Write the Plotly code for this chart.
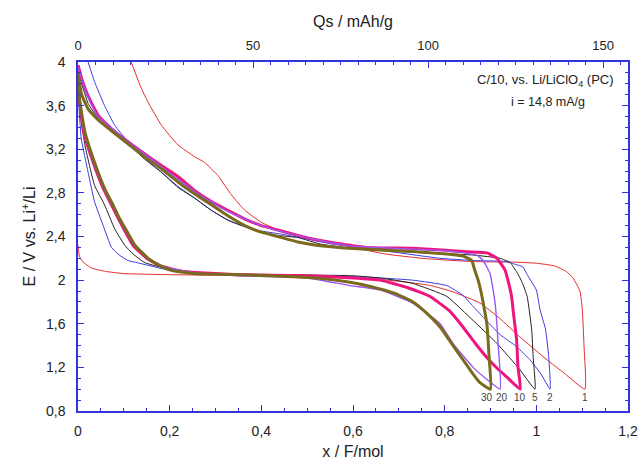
import plotly.graph_objects as go

# ---------- data (x / F/mol, E / V) ----------
cycles = ["1", "2", "5", "10", "20", "30"]

# cycle 1 (red)
c1_dis_x = [0, 0.003, 0.01, 0.03, 0.06, 0.1, 0.2, 0.4, 0.55, 0.65, 0.72, 0.77, 0.82, 0.877, 0.92, 0.964, 1.023, 1.06, 1.106]
c1_dis_e = [2.32, 2.22, 2.17, 2.11, 2.08, 2.06, 2.05, 2.04, 2.03, 2.01, 1.98, 1.95, 1.89, 1.79, 1.65, 1.48, 1.27, 1.15, 1.0]
c1_chg_x = [1.106, 1.104, 1.1, 1.095, 1.08, 1.065, 1.04, 1.0, 0.95, 0.86, 0.75, 0.67, 0.6, 0.55, 0.5, 0.473, 0.436, 0.4, 0.364, 0.335, 0.305, 0.276, 0.255, 0.218, 0.182, 0.153, 0.138, 0.116]
c1_chg_e = [1.0, 1.4, 1.75, 1.9, 2.02, 2.08, 2.13, 2.155, 2.165, 2.17, 2.2, 2.24, 2.3, 2.35, 2.39, 2.41, 2.46, 2.53, 2.64, 2.78, 2.96, 3.08, 3.13, 3.24, 3.42, 3.63, 3.76, 4.0]

# cycle 2 (blue)
c2_dis_x = [0, 0.002, 0.007, 0.022, 0.036, 0.055, 0.073, 0.09, 0.109, 0.129, 0.2, 0.273, 0.4, 0.55, 0.659, 0.73, 0.805, 0.84, 0.862, 0.884, 0.921, 0.957, 0.986, 1.01, 1.03]
c2_dis_e = [3.9, 3.6, 3.3, 2.99, 2.72, 2.5, 2.3, 2.23, 2.18, 2.16, 2.09, 2.06, 2.05, 2.04, 2.02, 2.0, 1.95, 1.86, 1.76, 1.66, 1.5, 1.39, 1.27, 1.14, 1.0]
c2_chg_x = [1.03, 1.027, 1.02, 1.008, 1.0, 0.98, 0.971, 0.95, 0.936, 0.862, 0.79, 0.666, 0.556, 0.484, 0.447, 0.4, 0.364, 0.327, 0.291, 0.255, 0.218, 0.182, 0.145, 0.109, 0.08, 0.058, 0.036, 0.022]
c2_chg_e = [1.0, 1.3, 1.55, 1.73, 1.91, 2.05, 2.12, 2.15, 2.17, 2.18, 2.2, 2.27, 2.33, 2.39, 2.42, 2.45, 2.49, 2.55, 2.64, 2.75, 2.86, 2.99, 3.12, 3.27, 3.42, 3.6, 3.82, 4.0]

# cycle 5 (black)
c5_dis_x = [0, 0.003, 0.015, 0.036, 0.058, 0.08, 0.102, 0.12, 0.146, 0.2, 0.3, 0.45, 0.6, 0.659, 0.73, 0.805, 0.862, 0.914, 0.964, 0.997]
c5_dis_e = [3.9, 3.6, 3.24, 2.87, 2.69, 2.47, 2.32, 2.24, 2.16, 2.1, 2.06, 2.05, 2.04, 2.02, 1.97, 1.85, 1.63, 1.42, 1.18, 1.0]
c5_chg_x = [0.997, 0.993, 0.99, 0.98, 0.969, 0.958, 0.943, 0.921, 0.862, 0.75, 0.6, 0.53, 0.48, 0.436, 0.4, 0.364, 0.327, 0.291, 0.255, 0.218, 0.182, 0.145, 0.109, 0.073, 0.044, 0.022, 0.008, 0]
c5_chg_e = [1.0, 1.3, 1.54, 1.85, 1.98, 2.07, 2.16, 2.2, 2.23, 2.25, 2.29, 2.33, 2.39, 2.41, 2.44, 2.49, 2.55, 2.64, 2.75, 2.85, 2.99, 3.11, 3.25, 3.36, 3.48, 3.62, 3.8, 3.92]

# cycle 10 (magenta)
c10_dis_x = [0, 0.002, 0.012, 0.033, 0.055, 0.085, 0.105, 0.12, 0.15, 0.18, 0.23, 0.35, 0.5, 0.6, 0.659, 0.72, 0.768, 0.81, 0.84, 0.865, 0.892, 0.915, 0.936, 0.965]
c10_dis_e = [3.92, 3.7, 3.36, 3.08, 2.84, 2.59, 2.43, 2.32, 2.2, 2.13, 2.08, 2.05, 2.04, 2.02, 2.0, 1.93, 1.85, 1.72, 1.57, 1.43, 1.29, 1.19, 1.11, 1.0]
c10_chg_x = [0.965, 0.96, 0.957, 0.95, 0.946, 0.938, 0.932, 0.914, 0.892, 0.849, 0.74, 0.63, 0.56, 0.52, 0.48, 0.436, 0.4, 0.364, 0.327, 0.291, 0.255, 0.218, 0.182, 0.145, 0.109, 0.073, 0.044, 0.022, 0.008, 0]
c10_chg_e = [1.0, 1.2, 1.45, 1.7, 1.85, 2.0, 2.09, 2.2, 2.25, 2.26, 2.29, 2.3, 2.34, 2.37, 2.41, 2.46, 2.5, 2.56, 2.64, 2.72, 2.82, 2.95, 3.05, 3.16, 3.27, 3.39, 3.51, 3.69, 3.85, 3.97]

# cycle 20 (violet)
c20_dis_x = [0, 0.002, 0.013, 0.034, 0.056, 0.086, 0.107, 0.122, 0.152, 0.18, 0.25, 0.35, 0.5, 0.594, 0.659, 0.73, 0.79, 0.818, 0.862, 0.895, 0.921]
c20_dis_e = [3.9, 3.7, 3.36, 3.08, 2.84, 2.59, 2.43, 2.32, 2.2, 2.13, 2.07, 2.04, 2.02, 1.95, 1.91, 1.79, 1.6, 1.42, 1.2, 1.08, 1.0]
c20_chg_x = [0.921, 0.917, 0.91, 0.899, 0.884, 0.87, 0.8, 0.7, 0.6, 0.52, 0.45, 0.4, 0.327, 0.255, 0.182, 0.109, 0.044, 0.02, 0]
c20_chg_e = [1.0, 1.39, 1.79, 2.06, 2.18, 2.23, 2.27, 2.29, 2.31, 2.37, 2.44, 2.5, 2.63, 2.81, 3.04, 3.27, 3.5, 3.7, 3.95]

# cycle 30 (olive)
c30_dis_x = [0, 0.002, 0.015, 0.036, 0.058, 0.075, 0.09, 0.109, 0.124, 0.153, 0.18, 0.203, 0.25, 0.35, 0.52, 0.594, 0.64, 0.69, 0.731, 0.76, 0.79, 0.815, 0.84, 0.86, 0.877, 0.9]
c30_dis_e = [3.9, 3.7, 3.36, 3.08, 2.84, 2.7, 2.57, 2.43, 2.32, 2.2, 2.13, 2.09, 2.06, 2.05, 2.02, 1.98, 1.94, 1.88, 1.8, 1.7, 1.57, 1.42, 1.27, 1.15, 1.06, 1.0]
c30_chg_x = [0.9, 0.897, 0.892, 0.888, 0.88, 0.873, 0.865, 0.859, 0.84, 0.74, 0.6, 0.52, 0.48, 0.436, 0.4, 0.364, 0.327, 0.291, 0.255, 0.218, 0.182, 0.145, 0.109, 0.073, 0.044, 0.022, 0.008, 0]
c30_chg_e = [1.0, 1.29, 1.6, 1.7, 1.88, 2.0, 2.1, 2.18, 2.22, 2.26, 2.29, 2.32, 2.35, 2.4, 2.44, 2.5, 2.59, 2.69, 2.79, 2.9, 3.02, 3.13, 3.25, 3.37, 3.47, 3.57, 3.7, 3.88]

x_ticks = [0, 0.2, 0.4, 0.6, 0.8, 1.0, 1.2]
y_ticks = [0.8, 1.2, 1.6, 2.0, 2.4, 2.8, 3.2, 3.6, 4.0]
qs_ticks = [0, 50, 100, 150]
qs_max = 157.1

# ---------- styles ----------
colors = ["#e82a2a", "#3a3ae6", "#222222", "#f0157e", "#9b55f0", "#7a6a1e"]
widths = [1, 1, 1, 3, 1.4, 3]
label_shift = [0, 0, 0, 0, 2, -4]

data = [
    (c1_dis_x, c1_dis_e, c1_chg_x, c1_chg_e),
    (c2_dis_x, c2_dis_e, c2_chg_x, c2_chg_e),
    (c5_dis_x, c5_dis_e, c5_chg_x, c5_chg_e),
    (c10_dis_x, c10_dis_e, c10_chg_x, c10_chg_e),
    (c20_dis_x, c20_dis_e, c20_chg_x, c20_chg_e),
    (c30_dis_x, c30_dis_e, c30_chg_x, c30_chg_e),
]

fig = go.Figure()
for name, (dx, de, cx, ce), col, w in zip(cycles, data, colors, widths):
    fig.add_trace(go.Scatter(
        x=dx + cx[1:], y=de + ce[1:], mode="lines", name=name,
        line=dict(color=col, width=w, shape="spline", smoothing=0.4),
        showlegend=False))

# empty trace so the top axis is drawn
fig.add_trace(go.Scatter(x=[0, qs_max], y=[None, None], xaxis="x2", yaxis="y",
                         mode="lines", showlegend=False, hoverinfo="skip"))

axis_col = "#3434dc"
font_fam = "Liberation Sans, Arial, sans-serif"

# cycle labels at the end of each discharge
for name, (dx, de, cx, ce), sh in zip(cycles, data, label_shift):
    fig.add_annotation(x=dx[-1], y=0.92, text=name, showarrow=False, xshift=sh,
                       font=dict(size=10, color="#444444", family=font_fam),
                       xref="x", yref="y")

fig.add_annotation(xref="paper", yref="paper", x=0.978, y=0.948, xanchor="right",
                   yanchor="middle", text="C/10, vs. Li/LiClO<sub>4</sub> (PC)",
                   showarrow=False,
                   font=dict(size=13, color="#222222", family=font_fam))
fig.add_annotation(xref="paper", yref="paper", x=0.855, y=0.886, xanchor="center",
                   yanchor="middle", text="i = 14,8 mA/g", showarrow=False,
                   font=dict(size=12.5, color="#222222", family=font_fam))

fig.update_layout(
    width=639, height=466,
    margin=dict(l=78, r=11, t=62, b=55),
    paper_bgcolor="white", plot_bgcolor="white",
    separators=", ",
    font=dict(family=font_fam, size=13, color="#222222"),
    xaxis=dict(range=[0, 1.2], tickvals=x_ticks, showline=True, linecolor=axis_col,
               linewidth=1.5, ticks="inside", ticklen=6, tickcolor=axis_col,
               showgrid=False, zeroline=False, automargin=False,
               tickfont=dict(size=14), ticklabelstandoff=6,
               minor=dict(dtick=0.05, ticks="inside", ticklen=3, tickcolor=axis_col),
               title=dict(text="x / F/mol", standoff=8)),
    xaxis2=dict(range=[0, qs_max], tickvals=qs_ticks, overlaying="x", side="top",
                anchor="y", showline=True, linecolor=axis_col, linewidth=1.5,
                ticks="inside", ticklen=6, tickcolor=axis_col, showgrid=False,
                zeroline=False, automargin=False,
                tickfont=dict(size=13), ticklabelstandoff=5,
                minor=dict(dtick=5, ticks="inside", ticklen=3, tickcolor=axis_col),
                title=dict(text="Qs / mAh/g", standoff=6)),
    yaxis=dict(range=[0.8, 4.0], tickvals=y_ticks, showline=True, linecolor=axis_col,
               linewidth=1.5, mirror="ticks", ticks="inside", ticklen=6,
               tickcolor=axis_col, showgrid=False, zeroline=False, automargin=False,
               tickfont=dict(size=14), ticklabelstandoff=8,
               minor=dict(dtick=0.1, ticks="inside", ticklen=3, tickcolor=axis_col),
               title=dict(text="E / V vs. Li<sup>+</sup>/Li", standoff=6)),
)

# remove the browser's default page margin so the 639x466 figure fills the window
fig.write_html("out.html", config={"displayModeBar": False},
               post_script="document.body.style.margin='0px';document.body.style.overflow='hidden';")
